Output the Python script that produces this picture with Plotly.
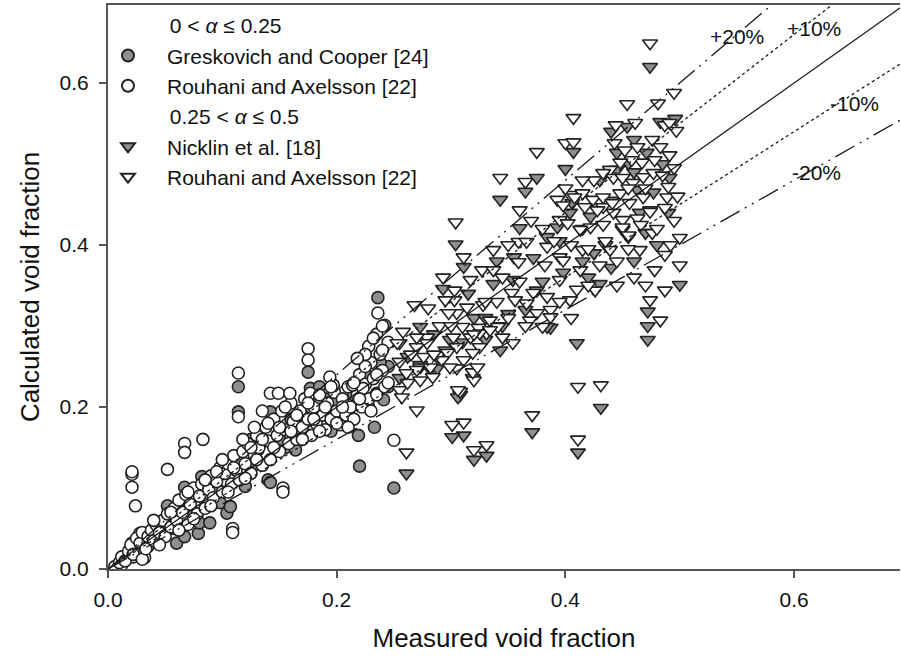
import plotly.graph_objects as go

# ---- data: measured vs calculated void fraction ----
# 0 < alpha <= 0.25, Greskovich and Cooper [24]
gc_x = [0.028, 0.031, 0.045, 0.052, 0.060, 0.067, 0.067, 0.079, 0.080, 0.082,
        0.089, 0.098, 0.104, 0.107, 0.114, 0.114, 0.120, 0.131, 0.140, 0.142,
        0.142, 0.155, 0.164, 0.177, 0.185, 0.195, 0.209, 0.210, 0.219, 0.220,
        0.228, 0.233, 0.235, 0.236, 0.241, 0.242, 0.245, 0.250, 0.175, 0.127,
        0.035, 0.058, 0.070, 0.095, 0.115, 0.125, 0.150, 0.160, 0.170, 0.190,
        0.200, 0.215, 0.225, 0.238, 0.245]
gc_y = [0.040, 0.036, 0.052, 0.078, 0.032, 0.040, 0.101, 0.044, 0.057, 0.114,
        0.057, 0.082, 0.069, 0.077, 0.225, 0.194, 0.102, 0.147, 0.110, 0.194,
        0.107, 0.150, 0.147, 0.223, 0.225, 0.170, 0.190, 0.193, 0.165, 0.127,
        0.200, 0.175, 0.217, 0.335, 0.209, 0.301, 0.250, 0.100, 0.243, 0.128,
        0.028, 0.050, 0.072, 0.100, 0.135, 0.160, 0.160, 0.185, 0.190, 0.210,
        0.205, 0.215, 0.240, 0.255, 0.225]

# 0 < alpha <= 0.25, Rouhani and Axelsson [22]
ra1_x = [0.006, 0.012, 0.021, 0.022, 0.028, 0.032, 0.010, 0.012, 0.015, 0.018,
         0.020, 0.022, 0.025, 0.028, 0.030, 0.030, 0.033, 0.035, 0.038, 0.040,
         0.042, 0.045, 0.048, 0.050, 0.052, 0.055, 0.058, 0.060, 0.062, 0.065,
         0.068, 0.070, 0.072, 0.075, 0.078, 0.080, 0.082, 0.085, 0.088, 0.090,
         0.092, 0.095, 0.098, 0.100, 0.102, 0.105, 0.108, 0.110, 0.112, 0.115,
         0.118, 0.120, 0.122, 0.125, 0.128, 0.130, 0.132, 0.135, 0.138, 0.140,
         0.142, 0.145, 0.148, 0.150, 0.152, 0.155, 0.158, 0.160, 0.162, 0.165,
         0.168, 0.170, 0.172, 0.175, 0.178, 0.180, 0.182, 0.185, 0.188, 0.190,
         0.192, 0.195, 0.198, 0.200, 0.203, 0.205, 0.208, 0.210, 0.212, 0.215,
         0.218, 0.220, 0.222, 0.225, 0.228, 0.230, 0.232, 0.235, 0.238, 0.240,
         0.242, 0.245, 0.235, 0.228,
         0.114, 0.114, 0.021, 0.021, 0.021, 0.024, 0.052, 0.067, 0.067, 0.083,
         0.109, 0.109, 0.153, 0.153, 0.250, 0.142, 0.149, 0.159, 0.177, 0.185,
         0.197, 0.214, 0.223, 0.236, 0.175, 0.175, 0.194,
         0.040, 0.045, 0.055, 0.062, 0.070, 0.075, 0.085, 0.090, 0.095, 0.100,
         0.105, 0.110, 0.118, 0.120, 0.125, 0.130, 0.135, 0.140, 0.145, 0.150,
         0.155, 0.160, 0.165, 0.170, 0.175, 0.180, 0.185, 0.190, 0.195, 0.200,
         0.205, 0.210, 0.215, 0.220, 0.225, 0.230, 0.235, 0.240, 0.245, 0.232,
         0.225, 0.218, 0.240, 0.128, 0.135]
ra1_y = [0.003, 0.005, 0.032, 0.015, 0.044, 0.014, 0.008, 0.015, 0.010, 0.022,
         0.030, 0.018, 0.038, 0.032, 0.045, 0.012, 0.025, 0.040, 0.048, 0.035,
         0.055, 0.045, 0.060, 0.040, 0.068, 0.052, 0.075, 0.060, 0.085, 0.070,
         0.092, 0.055, 0.080, 0.100, 0.068, 0.090, 0.105, 0.075, 0.098, 0.115,
         0.088, 0.108, 0.125, 0.095, 0.118, 0.130, 0.105, 0.140, 0.122, 0.110,
         0.145, 0.130, 0.155, 0.118, 0.140, 0.165, 0.150, 0.128, 0.175, 0.158,
         0.135, 0.185, 0.165, 0.145, 0.195, 0.172, 0.155, 0.205, 0.182, 0.160,
         0.195, 0.175, 0.210, 0.185, 0.165, 0.200, 0.180, 0.212, 0.190, 0.172,
         0.205, 0.185, 0.218, 0.195, 0.178, 0.210, 0.190, 0.225, 0.200, 0.185,
         0.215, 0.240, 0.200, 0.228, 0.210, 0.255, 0.235, 0.215, 0.265, 0.245,
         0.225, 0.280, 0.290, 0.275,
         0.242, 0.188, 0.117, 0.120, 0.101, 0.078, 0.123, 0.155, 0.144, 0.160,
         0.050, 0.045, 0.100, 0.095, 0.159, 0.217, 0.217, 0.217, 0.217, 0.215,
         0.227, 0.227, 0.223, 0.316, 0.272, 0.258, 0.237,
         0.060, 0.030, 0.070, 0.048, 0.095, 0.062, 0.110, 0.078, 0.120, 0.135,
         0.095, 0.125, 0.160, 0.112, 0.150, 0.135, 0.160, 0.180, 0.150, 0.175,
         0.200, 0.170, 0.190, 0.160, 0.205, 0.185, 0.170, 0.200, 0.225, 0.180,
         0.200, 0.175, 0.230, 0.210, 0.250, 0.195, 0.240, 0.270, 0.230, 0.285,
         0.265, 0.260, 0.300, 0.175, 0.195]

# 0.25 < alpha <= 0.5, Nicklin et al. [18]
nk_x = [0.474, 0.400, 0.343, 0.375, 0.365, 0.308, 0.311, 0.301, 0.320, 0.331,
        0.371, 0.411, 0.431, 0.261, 0.306, 0.319, 0.304, 0.311, 0.293, 0.273,
        0.360, 0.372, 0.384, 0.404, 0.393, 0.354, 0.375, 0.387, 0.330, 0.343,
        0.299, 0.273, 0.282, 0.290, 0.384, 0.410, 0.483, 0.496, 0.454, 0.407,
        0.471, 0.445, 0.455, 0.445, 0.463, 0.477, 0.491, 0.474, 0.450, 0.470,
        0.422, 0.406, 0.255, 0.273, 0.288, 0.420, 0.430, 0.472, 0.472, 0.472,
        0.500, 0.415, 0.440, 0.398, 0.460, 0.350, 0.337, 0.320, 0.262,
        0.430, 0.460, 0.485, 0.440, 0.465, 0.490, 0.415, 0.435, 0.455, 0.480,
        0.425, 0.395, 0.380, 0.365, 0.345, 0.330, 0.310, 0.295, 0.340, 0.355,
        0.315, 0.285, 0.460, 0.440]
nk_y = [0.620, 0.494, 0.456, 0.483, 0.466, 0.215, 0.165, 0.163, 0.135, 0.140,
        0.169, 0.144, 0.199, 0.118, 0.212, 0.236, 0.401, 0.373, 0.346, 0.299,
        0.421, 0.384, 0.410, 0.440, 0.422, 0.357, 0.344, 0.298, 0.283, 0.270,
        0.283, 0.252, 0.246, 0.258, 0.299, 0.279, 0.552, 0.556, 0.546, 0.515,
        0.514, 0.514, 0.501, 0.493, 0.468, 0.465, 0.483, 0.443, 0.419, 0.415,
        0.435, 0.452, 0.236, 0.249, 0.248, 0.360, 0.352, 0.300, 0.283, 0.318,
        0.351, 0.380, 0.372, 0.366, 0.380, 0.315, 0.352, 0.310, 0.262,
        0.480, 0.490, 0.500, 0.455, 0.440, 0.440, 0.420, 0.400, 0.410, 0.400,
        0.390, 0.405, 0.355, 0.320, 0.300, 0.310, 0.280, 0.270, 0.380, 0.385,
        0.340, 0.290, 0.530, 0.540]

# 0.25 < alpha <= 0.5, Rouhani and Axelsson [22]
ra2_x = [0.474, 0.495, 0.481, 0.454, 0.407, 0.444, 0.461, 0.375, 0.400, 0.343,
         0.365, 0.360, 0.308, 0.320, 0.311, 0.301, 0.320, 0.331, 0.371, 0.411,
         0.411, 0.431, 0.261, 0.270, 0.306, 0.319, 0.304, 0.311, 0.293, 0.317,
         0.327, 0.337, 0.303, 0.303, 0.268, 0.280, 0.279, 0.255, 0.270, 0.337,
         0.359, 0.359, 0.366, 0.384, 0.395, 0.393, 0.404, 0.398, 0.395, 0.402,
         0.353, 0.356, 0.366, 0.372, 0.384, 0.375, 0.369, 0.387, 0.380, 0.334,
         0.341, 0.345, 0.331, 0.324, 0.317, 0.325, 0.310, 0.305, 0.297, 0.302,
         0.354, 0.319, 0.323, 0.311, 0.305, 0.270, 0.261, 0.284, 0.387, 0.487,
         0.491, 0.497, 0.407, 0.443, 0.452, 0.463, 0.476, 0.483, 0.491, 0.478,
         0.467, 0.458, 0.448, 0.439, 0.433, 0.442, 0.450, 0.459, 0.468, 0.477,
         0.485, 0.490, 0.489, 0.487, 0.474, 0.463, 0.450, 0.442, 0.433, 0.424,
         0.415, 0.408, 0.433, 0.448, 0.441, 0.428, 0.417, 0.456, 0.468, 0.450,
         0.466, 0.455, 0.476, 0.422, 0.413, 0.433, 0.500, 0.398, 0.413, 0.430,
         0.426, 0.395, 0.382, 0.439, 0.415, 0.404, 0.474, 0.487, 0.483, 0.478,
         0.487, 0.465, 0.500, 0.258, 0.253, 0.255, 0.255, 0.262, 0.257, 0.270,
         0.279, 0.276, 0.282, 0.292, 0.299, 0.273, 0.305, 0.314, 0.328, 0.295,
         0.298, 0.325, 0.334,
         0.405, 0.420, 0.435, 0.445, 0.455, 0.460, 0.470, 0.480, 0.495, 0.492,
         0.420, 0.410, 0.445, 0.455, 0.470, 0.495, 0.498, 0.425, 0.415, 0.400,
         0.390, 0.380, 0.370, 0.350, 0.345, 0.340, 0.360, 0.395, 0.405, 0.350,
         0.365, 0.330, 0.320, 0.290, 0.285, 0.300, 0.265]
ra2_y = [0.649, 0.588, 0.575, 0.574, 0.557, 0.548, 0.551, 0.515, 0.526, 0.483,
         0.478, 0.443, 0.219, 0.233, 0.181, 0.178, 0.147, 0.153, 0.190, 0.225,
         0.160, 0.227, 0.144, 0.196, 0.221, 0.243, 0.428, 0.385, 0.360, 0.357,
         0.369, 0.369, 0.344, 0.332, 0.326, 0.322, 0.286, 0.279, 0.274, 0.394,
         0.379, 0.404, 0.404, 0.398, 0.385, 0.456, 0.462, 0.449, 0.431, 0.427,
         0.341, 0.332, 0.328, 0.341, 0.336, 0.316, 0.307, 0.320, 0.299, 0.307,
         0.299, 0.286, 0.291, 0.298, 0.286, 0.274, 0.299, 0.274, 0.267, 0.286,
         0.279, 0.267, 0.249, 0.258, 0.248, 0.246, 0.242, 0.237, 0.311, 0.548,
         0.551, 0.541, 0.527, 0.526, 0.517, 0.521, 0.530, 0.521, 0.511, 0.505,
         0.502, 0.505, 0.502, 0.493, 0.489, 0.483, 0.483, 0.477, 0.484, 0.489,
         0.486, 0.472, 0.459, 0.446, 0.441, 0.433, 0.431, 0.440, 0.447, 0.456,
         0.464, 0.459, 0.459, 0.464, 0.452, 0.443, 0.447, 0.452, 0.459, 0.422,
         0.425, 0.412, 0.415, 0.422, 0.419, 0.425, 0.409, 0.381, 0.369, 0.375,
         0.344, 0.357, 0.375, 0.394, 0.394, 0.332, 0.332, 0.344, 0.307, 0.369,
         0.388, 0.394, 0.375, 0.293, 0.279, 0.256, 0.221, 0.230, 0.212, 0.286,
         0.279, 0.262, 0.249, 0.258, 0.249, 0.233, 0.316, 0.323, 0.326, 0.332,
         0.316, 0.291, 0.295,
         0.400, 0.395, 0.405, 0.380, 0.395, 0.360, 0.350, 0.420, 0.430, 0.400,
         0.350, 0.345, 0.350, 0.470, 0.470, 0.495, 0.460, 0.480, 0.480, 0.470,
         0.405, 0.420, 0.430, 0.400, 0.360, 0.330, 0.355, 0.330, 0.310, 0.310,
         0.300, 0.330, 0.290, 0.300, 0.265, 0.300, 0.265]

# reference lines y = k * x
ratios = [1.0, 1.1, 0.9, 1.2, 0.8]
ratio_labels = ["", "+10%", "-10%", "+20%", "-20%"]
label_x = [None, 0.617, 0.653, 0.550, 0.620]
label_y = [None, 0.667, 0.575, 0.657, 0.490]
line_x = [0.0, 0.72]

FONT = "Liberation Sans, Arial, sans-serif"
EDGE = "#222222"
GRAY = "#8f8f8f"
PAD = "&nbsp;" * 13

fig = go.Figure()

fig.add_trace(go.Scatter(
    x=gc_x, y=gc_y, mode="markers", name="Greskovich and Cooper [24]",
    legendgroup="low", legendgrouptitle=dict(text=PAD + "0 < <i>α</i> ≤ 0.25"),
    marker=dict(symbol="circle", size=12, color=GRAY,
                line=dict(color=EDGE, width=1.6))))
fig.add_trace(go.Scatter(
    x=ra1_x, y=ra1_y, mode="markers", name="Rouhani and Axelsson [22]",
    legendgroup="low",
    marker=dict(symbol="circle", size=12, color="white",
                line=dict(color=EDGE, width=1.6))))
fig.add_trace(go.Scatter(
    x=nk_x, y=nk_y, mode="markers", name="Nicklin et al. [18]",
    legendgroup="high", legendgrouptitle=dict(text=PAD + "0.25 < <i>α</i> ≤ 0.5"),
    marker=dict(symbol="triangle-down", size=13, color=GRAY,
                line=dict(color=EDGE, width=1.6))))
fig.add_trace(go.Scatter(
    x=ra2_x, y=ra2_y, mode="markers", name="Rouhani and Axelsson [22]",
    legendgroup="high",
    marker=dict(symbol="triangle-down", size=13, color="white",
                line=dict(color=EDGE, width=1.6))))

dash_styles = {1.0: "solid", 1.1: "dot", 0.9: "dot",
               1.2: "22px,6px,2px,6px,2px,6px", 0.8: "22px,6px,2px,6px,2px,6px"}
for k in ratios:
    fig.add_trace(go.Scatter(
        x=line_x, y=[k * v for v in line_x], mode="lines", showlegend=False,
        hoverinfo="skip",
        line=dict(color="#1a1a1a", width=1.3, dash=dash_styles[k])))

for lab, lx, ly in zip(ratio_labels, label_x, label_y):
    if lab:
        fig.add_annotation(x=lx, y=ly, text=lab, showarrow=False,
                           font=dict(family=FONT, size=21, color="#111"))

fig.update_layout(
    width=901, height=659,
    margin=dict(l=108, r=1, t=5, b=90),
    paper_bgcolor="white", plot_bgcolor="white",
    font=dict(family=FONT, size=21, color="#111"),
    showlegend=True,
    legend=dict(x=-0.024, y=1.0, xanchor="left", yanchor="top",
                bgcolor="rgba(0,0,0,0)", font=dict(size=21),
                grouptitlefont=dict(size=21), tracegroupgap=0,
                itemsizing="constant", itemwidth=68, traceorder="grouped"),
)
fig.update_xaxes(
    range=[0, 0.6926], tickvals=[0.0, 0.2, 0.4, 0.6], ticktext=["0.0", "0.2", "0.4", "0.6"],
    showgrid=False, zeroline=False, showline=True, linecolor="#555", linewidth=2,
    mirror=True, ticks="outside", ticklen=7, tickwidth=1.5, tickcolor="#555",
    ticklabelstandoff=4,
    title=dict(text="Measured void fraction", font=dict(size=26), standoff=19))
fig.update_yaxes(
    range=[0, 0.6963], tickvals=[0.0, 0.2, 0.4, 0.6], ticktext=["0.0", "0.2", "0.4", "0.6"],
    showgrid=False, zeroline=False, showline=True, linecolor="#555", linewidth=2,
    mirror=False, ticks="outside", ticklen=7, tickwidth=1.5, tickcolor="#555",
    ticklabelstandoff=6,
    title=dict(text="Calculated void fraction", font=dict(size=26), standoff=12))

fig.write_html("out.html")
